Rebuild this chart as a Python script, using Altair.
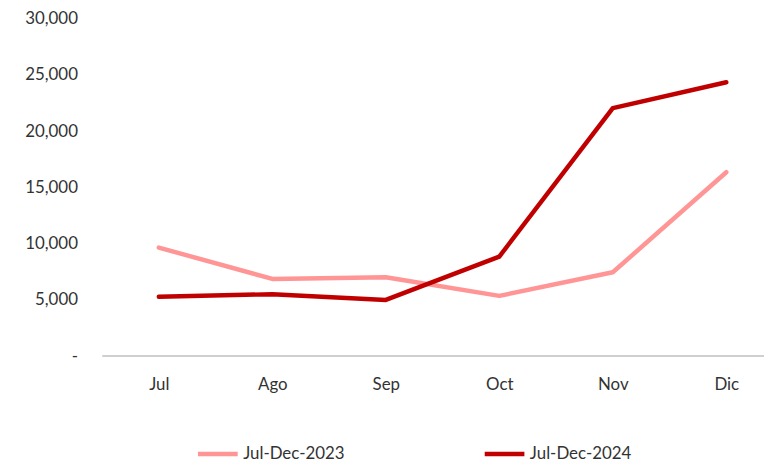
import altair as alt
import pandas as pd

months = ["Jul", "Ago", "Sep", "Oct", "Nov", "Dic"]
v2023 = [9650, 6860, 7010, 5350, 7450, 16350]
v2024 = [5280, 5500, 4990, 8850, 22050, 24350]
series = ["Jul-Dec-2023", "Jul-Dec-2024"]
colors = ["#FF9595", "#C00000"]

rows = []
for m, a, b in zip(months, v2023, v2024):
    rows.append({"mes": m, "serie": series[0], "valor": a})
    rows.append({"mes": m, "serie": series[1], "valor": b})
df = pd.DataFrame(rows)

W, H = 667, 340
FONT = "Lato"

yaxis = alt.Axis(values=[0, 5000, 10000, 15000, 20000, 25000, 30000],
                 domain=False, ticks=False, grid=False,
                 labelExpr="datum.value == 0 ? '-' : format(datum.value, ',')",
                 labelFontSize=17, labelFont=FONT, labelColor="#333333",
                 labelPadding=25)
yscale = alt.Scale(domain=[0, 30000], nice=False)

x = alt.X("mes:N", sort=months, title=None,
          scale=alt.Scale(type="point", range=[57, 629], padding=0),
          axis=alt.Axis(domain=False, ticks=False, grid=False, labelAngle=0,
                        labelFontSize=17, labelFont=FONT, labelColor="#333333",
                        labelPadding=21))

lines = alt.Chart(df).mark_line(strokeWidth=4.5, strokeCap="round", strokeJoin="round").encode(
    x=x,
    y=alt.Y("valor:Q", title=None, scale=yscale, axis=yaxis),
    color=alt.Color("serie:N", scale=alt.Scale(domain=series, range=colors),
                    legend=alt.Legend(orient="none", legendX=94, legendY=416,
                                      direction="horizontal", columns=2,
                                      title=None, symbolType="stroke",
                                      symbolSize=1600, symbolStrokeWidth=4.5,
                                      labelFontSize=17, labelFont=FONT,
                                      labelColor="#333333", labelOffset=3,
                                      columnPadding=131)),
)

base = alt.Chart(pd.DataFrame({"v": [0]})).mark_rule(color="#BFBFBF", strokeWidth=1.5).encode(
    y=alt.Y("v:Q", title=None, scale=yscale, axis=yaxis),
    x=alt.value(0), x2=alt.value(W),
)

chart = alt.layer(base, lines).properties(
    width=W, height=H,
    autosize=alt.AutoSizeParams(type="none"),
    padding={"left": 95, "top": 9, "right": 0, "bottom": 110},
).configure_view(stroke=None)

chart.save("out.html", embed_options={"renderer": "svg", "actions": False})
